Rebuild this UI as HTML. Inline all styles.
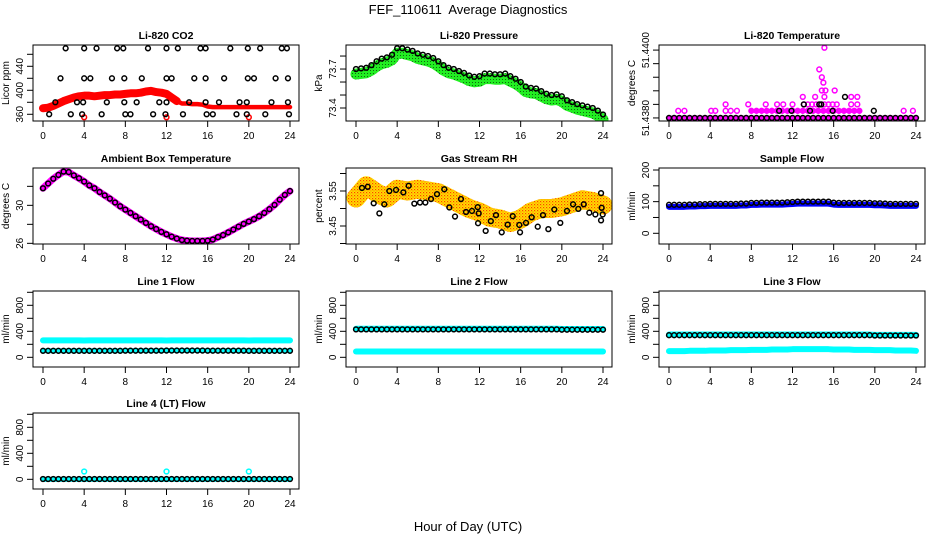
<!DOCTYPE html>
<html><head><meta charset="utf-8"><style>
body{margin:0;background:#fff;}
svg{display:block;font-family:"Liberation Sans",Arial,sans-serif;}
</style></head><body>
<svg id="chart" width="936" height="540" viewBox="0 0 936 540" xmlns="http://www.w3.org/2000/svg">
<defs>
<pattern id="ry" width="3" height="3" patternUnits="userSpaceOnUse"><rect width="3" height="3" fill="#ffe000"/><rect x="0" y="0" width="1.2" height="1.2" fill="#ff4000"/><rect x="1.5" y="1.5" width="1" height="1" fill="#ff6000"/></pattern>
<pattern id="gk" width="3" height="3" patternUnits="userSpaceOnUse"><rect width="3" height="3" fill="#22ee22"/><rect x="1" y="1" width="1" height="1" fill="#116611"/></pattern>
</defs>
<text x="468" y="14" text-anchor="middle" font-size="13" xml:space="preserve">FEF_110611  Average Diagnostics</text>
<text x="468" y="531" text-anchor="middle" font-size="13">Hour of Day (UTC)</text>
</svg>
<script>
// ---------- data ----------
const HOURS = [0,0.5,1,1.5,2,2.5,3,3.5,4,4.5,5,5.5,6,6.5,7,7.5,8,8.5,9,9.5,10,10.5,11,11.5,12,12.5,13,13.5,14,14.5,15,15.5,16,16.5,17,17.5,18,18.5,19,19.5,20,20.5,21,21.5,22,22.5,23,23.5,24];
const X_TICKS = [0,4,8,12,16,20,24];

const co2Red = [370,371,374,378,382,385,388,390,391,391,390,391,392,392,393,393,394,395,395,396,398,399,397,396,394,388,382,378,378,377,377,376,373,372,372,372,372,372,372,372,372,372,372,372,372,372,372,372,372];
const co2BlackH = [2.2,4.0,5.2,7.2,7.8,10.2,12.0,13.1,15.3,15.8,18.2,19.9,21.1,23.2,23.7, 1.7,4.0,4.6,6.7,7.9,9.6,12.0,12.5,14.7,15.8,17.6,19.9,20.5,22.6,23.8, 1.2,3.3,3.9,6.2,7.9,9.1,11.3,12.0,14.2,15.8,17.1,19.1,19.8,22.2,23.8, 0.6,2.7,3.8,5.7,8.0,8.5,10.7,11.9,13.6,15.9,16.5,18.8,19.8,21.6,23.9];
const co2BlackV = [470,470,470,470,470,470,470,470,470,470,470,470,470,470,470, 420,420,420,420,420,420,420,420,420,420,420,420,420,420,420, 380,380,380,380,380,380,380,380,380,380,380,380,380,380,380, 360,360,360,360,360,360,360,360,360,360,360,360,360,360,360];
const co2OutH = [4,12,20];
const co2OutV = [355,355,355];

const pressure = [73.70,73.705,73.71,73.73,73.76,73.78,73.79,73.81,73.86,73.86,73.85,73.84,73.82,73.81,73.80,73.785,73.76,73.73,73.71,73.70,73.685,73.67,73.65,73.64,73.645,73.665,73.665,73.66,73.66,73.665,73.645,73.625,73.60,73.565,73.555,73.55,73.53,73.51,73.50,73.505,73.49,73.46,73.445,73.43,73.42,73.41,73.40,73.38,73.35];

const tempBase = [51.4380,51.4380,51.4380,51.4380,51.4380,51.4380,51.4380,51.4380,51.4380,51.4380,51.4380,51.4380,51.4380,51.4380,51.4380,51.4380,51.4380,51.4380,51.4380,51.4380,51.4380,51.4380,51.4380,51.4380,51.4380,51.4380,51.4380,51.4380,51.4380,51.4380,51.4380,51.4380,51.4380,51.4380,51.4380,51.4380,51.4380,51.4380,51.4380,51.4380,51.4380,51.4380,51.4380,51.4380,51.4380,51.4380,51.4380,51.4380,51.4380];
const tempMagH = [0.9,1.5,4.1,4.5,5.5,6.0,6.6,8.0,8.5,9.0,9.5,10.0,10.5,11.0,11.5,12.0,12.5,13.0,13.5,14.0,14.5,15.0,15.5,16.0,16.5,17.0,17.5,18.0,18.5,22.8,23.7, 5.5,7.7,9.4,10.5,11.1,12.0,13.1,13.5,13.9,14.3,14.7,15.1,15.5,15.9,16.3,17.7,18.3, 13.0,14.2,15.1,17.7,18.3, 14.85,15.2,16.1, 15.0, 14.85, 14.6, 15.1];
const tempMagV = [51.43821,51.43821,51.43821,51.43821,51.43821,51.43821,51.43821,51.43821,51.43821,51.43821,51.43821,51.43821,51.43821,51.43821,51.43821,51.43821,51.43821,51.43821,51.43821,51.43821,51.43821,51.43821,51.43821,51.43821,51.43821,51.43821,51.43821,51.43821,51.43821,51.43821,51.43821, 51.4384,51.4384,51.4384,51.4384,51.4384,51.4384,51.4384,51.4384,51.4384,51.4384,51.4384,51.4384,51.4384,51.4384,51.4384,51.4384,51.4384, 51.43862,51.43862,51.43862,51.43862,51.43862, 51.43881,51.43881,51.43881, 51.43904, 51.4392, 51.43943, 51.44007];
const tempBlkH = [10.7,11.9,13.7,15.9,19.9,13.1,14.6,14.8,17.1];
const tempBlkV = [51.43821,51.43821,51.43821,51.43821,51.43821,51.4384,51.4384,51.4384,51.43862];

const ambient = [31.8,32.3,32.8,33.2,33.55,33.5,33.15,32.85,32.5,32.1,31.8,31.4,31.05,30.7,30.3,29.9,29.55,29.2,28.85,28.5,28.15,27.8,27.5,27.2,26.95,26.7,26.5,26.35,26.28,26.25,26.25,26.25,26.28,26.4,26.65,26.87,27.15,27.45,27.75,28.05,28.3,28.55,28.85,29.2,29.6,30.05,30.6,31.1,31.5];

const rhHours = [0,1,2,3,4,5,6,7,8,9,10,11,12,13,14,15,16,17,18,19,20,21,22,23,24];
const rhCloud = [3.53,3.565,3.545,3.53,3.555,3.55,3.555,3.55,3.545,3.53,3.515,3.50,3.49,3.475,3.47,3.46,3.47,3.49,3.50,3.50,3.505,3.515,3.525,3.52,3.51];
const rhBlkH = [0.58,1.14,1.72,2.27,2.75,3.24,3.89,4.60,5.12,5.67,6.22,6.74,7.29,7.87,8.58,9.07,9.62,10.2,10.69,11.27,11.83,11.92,11.86,12.6,13.1,13.6,14.16,14.74,15.23,15.87,15.94,16.52,17.07,17.66,18.17,18.69,19.27,19.85,20.5,21.09,21.6,22.13,22.67,23.26,23.81,23.87,23.97,23.81];
const rhBlkV = [3.559,3.562,3.515,3.486,3.512,3.550,3.553,3.546,3.565,3.514,3.517,3.517,3.527,3.541,3.555,3.503,3.477,3.527,3.490,3.493,3.504,3.486,3.458,3.436,3.464,3.481,3.432,3.454,3.478,3.453,3.432,3.459,3.475,3.448,3.481,3.441,3.497,3.459,3.493,3.512,3.499,3.512,3.488,3.483,3.544,3.502,3.483,3.466];

const sampleFlow = [90,90,90,90,91,91,92,92,93,93,93,93,93,93,94,94,96,96,97,97,97,97,97,98,99,100,100,100,100,100,100,100,97,96,96,96,96,96,96,96,95,95,94,93,93,93,93,93,93];

const line1Cyan = [260,260,260,260,260,260,260,260,258,260,260,260,260,260,260,260,260,260,260,260,260,260,260,260,258,260,260,260,260,260,260,260,260,260,260,260,260,260,260,260,258,260,260,260,260,260,260,260,260];
const line1Black = [100,100,100,100,100,100,100,100,100,100,100,100,100,100,100,100,102,102,102,102,102,102,102,102,104,104,104,104,104,104,104,104,102,102,102,102,102,102,102,102,100,100,100,100,100,100,100,100,100];
const line2Cyan = [440,440,440,440,440,440,440,440,440,440,440,440,440,440,440,440,440,440,440,440,440,440,440,440,440,440,440,440,440,440,440,440,440,440,440,440,440,440,440,440,435,435,435,435,435,435,435,435,435];
const line2Low = [90,90,90,90,90,90,90,90,90,90,90,90,90,90,90,90,90,90,90,90,90,90,90,90,90,90,90,90,90,90,90,90,90,90,90,90,90,90,90,90,90,90,90,90,90,90,90,90,90];
const line2Black = [430,430,430,430,430,430,430,430,430,430,430,430,430,430,430,430,430,430,430,430,430,430,430,430,430,430,430,430,430,430,430,430,430,430,430,430,430,430,430,430,425,425,425,425,425,425,425,425,425];
const line3Cyan = [350,350,350,350,350,350,350,350,350,350,350,350,350,350,350,350,350,350,350,350,350,350,350,350,350,350,350,350,350,350,350,350,350,350,350,350,350,350,350,350,345,345,345,345,345,345,345,345,345];
const line3Low = [95,95,95,95,100,100,100,100,105,105,105,105,110,110,110,110,115,115,115,115,120,120,120,120,125,125,125,125,125,125,125,125,120,120,120,120,115,115,115,115,110,110,110,110,105,105,105,105,100];
const line3Black = [340,340,340,340,340,340,340,340,340,340,340,340,340,340,340,340,340,340,340,340,340,340,340,340,340,340,340,340,340,340,340,340,340,340,340,340,340,340,340,340,335,335,335,335,335,335,335,335,335];
const line4Cyan = [0,0,0,0,0,0,0,0,0,0,0,0,0,0,0,0,0,0,0,0,0,0,0,0,0,0,0,0,0,0,0,0,0,0,0,0,0,0,0,0,0,0,0,0,0,0,0,0,0];
const line4Black = [5,5,5,5,5,5,5,5,5,5,5,5,5,5,5,5,5,5,5,5,5,5,5,5,5,5,5,5,5,5,5,5,5,5,5,5,5,5,5,5,5,5,5,5,5,5,5,5,5];
const line4OutH = [4,12,20];
const line4OutV = [120,120,120];

// ---------- drawing ----------
const svg = document.getElementById('chart');
const NS = 'http://www.w3.org/2000/svg';
const COLS = [33,346,659], ROWS = [45,168,291,413], PW = 266, PH = 76;
function mk(tag, attrs, parent){ const e=document.createElementNS(NS,tag); for(const k in attrs) e.setAttribute(k,attrs[k]); (parent||svg).appendChild(e); return e; }

function panel(col,row,title,ylab,ymin,ymax,yticks,ylabels,name){
  const L=COLS[col], T=ROWS[row];
  const g=mk('g',{});
  
  
  const xs=h=>L+10+h*(PW-19)/24;
  const ys=v=>T+PH-(v-ymin)/(ymax-ymin)*PH;
  const t=mk('text',{x:L+PW/2,y:T-6,'text-anchor':'middle','font-size':'10.5','font-weight':'bold'},g);
  t.textContent=title;
  
  
  const marks=mk('g',{},g);
  
  
  const axes=mk('g',{stroke:'#000','stroke-width':'1',fill:'none'},g);
  
  
  mk('rect',{x:L,y:T,width:PW,height:PH},axes);
  mk('line',{x1:xs(0),x2:xs(24),y1:T+PH,y2:T+PH},axes);
  X_TICKS.forEach(h=>{
    mk('line',{x1:xs(h),x2:xs(h),y1:T+PH,y2:T+PH+6},axes);
    const tl=mk('text',{x:xs(h),y:T+PH+18,'text-anchor':'middle','font-size':'10'},g);
    tl.textContent=h;
    
    
  });
  yticks.forEach(v=>{ mk('line',{x1:L-6,x2:L,y1:ys(v),y2:ys(v)},axes); });
  ylabels.forEach(v=>{
    const yl=mk('text',{x:L-10,y:ys(v[0]),'text-anchor':'middle','font-size':'10',transform:`rotate(-90 ${L-10} ${ys(v[0])})`},g);
    yl.textContent=v[1];
    
    
  });
  const yt=mk('text',{x:L-24,y:T+PH/2,'text-anchor':'middle','font-size':'10',transform:`rotate(-90 ${L-24} ${T+PH/2})`},g);
  yt.textContent=ylab;
  
  
  const clip='c'+name; const cp=mk('clipPath',{id:clip},g); mk('rect',{x:L,y:T,width:PW,height:PH},cp);
  marks.setAttribute('clip-path','url(#'+clip+')');
  return {xs,ys,marks};
}
function band(p,hs,vs,color,w,dy,name){
  const pts=hs.map((h,i)=>p.xs(h)+','+(p.ys(vs[i])+(dy||0))).join(' ');
  const b=mk('polyline',{points:pts,fill:'none',stroke:color,'stroke-width':w,'stroke-linejoin':'round','stroke-linecap':'round'},p.marks);
  
  
}
function pts(p,hs,vs,color,name,r){
  hs.forEach((h,i)=>{
    const c=mk('circle',{cx:p.xs(h),cy:p.ys(vs[i]),r:r||2.4,fill:'none',stroke:color,'stroke-width':'1.5'},p.marks);
    
    
  });
}

// CO2
let p=panel(0,0,'Li-820 CO2','Licor ppm',348.8,475.5,[360,380,400,420,440,460],[[360,'360'],[400,'400'],[440,'440']],'co2');
band(p,HOURS.slice(0,27),co2Red.slice(0,27),'#ff0000',8,0,'co2-band-day');
band(p,HOURS.slice(26),co2Red.slice(26),'#ff0000',4.5,0,'co2-band-night');
pts(p,co2OutH,co2OutV,'#ff0000','co2-outlier');
pts(p,co2BlackH,co2BlackV,'#000','co2-point');

// Pressure
p=panel(1,0,'Li-820 Pressure','kPa',73.30,73.885,[73.4,73.5,73.6,73.7,73.8],[[73.4,'73.4'],[73.7,'73.7']],'pressure');
band(p,HOURS,pressure,'url(#gk)',11,5,'pressure-band');
pts(p,HOURS,pressure,'#000','pressure-point');

// Temperature
p=panel(2,0,'Li-820 Temperature','degrees C',51.43791,51.44015,[51.438,51.4384,51.4388,51.4392,51.4396,51.44],[[51.438,'51.4380'],[51.44,'51.4400']],'temperature');
band(p,HOURS,tempBase,'#ff00ff',5,0,'temperature-band');
band(p,[8,18.5],[51.43821,51.43821],'#ff00ff',4,0,'temperature-band-2');
pts(p,tempMagH,tempMagV,'#ff00ff','temperature-magenta-point');
pts(p,HOURS,tempBase,'#000','temperature-point');
pts(p,tempBlkH,tempBlkV,'#000','temperature-point');

// Ambient
p=panel(0,1,'Ambient Box Temperature','degrees C',25.93,33.93,[26,28,30,32],[[26,'26'],[30,'30']],'ambient');
band(p,HOURS,ambient,'#ff00ff',7,0,'ambient-band');
pts(p,HOURS,ambient,'#000','ambient-point');

// Gas RH
p=panel(1,1,'Gas Stream RH','percent',3.3986,3.6157,[3.40,3.45,3.50,3.55,3.60],[[3.45,'3.45'],[3.55,'3.55']],'gas-rh');
band(p,rhHours,rhCloud,'url(#ry)',19,0,'gas-rh-cloud');
pts(p,rhBlkH,rhBlkV,'#000','gas-rh-point');

// Sample flow
p=panel(2,1,'Sample Flow','ml/min',-33.8,206.3,[0,50,100,150,200],[[0,'0'],[100,'100'],[200,'200']],'sample-flow');
band(p,HOURS,sampleFlow,'#0000ff',6,2,'sample-flow-band');
pts(p,HOURS,sampleFlow,'#000','sample-flow-point');

const FT=[0,200,400,600,800,1000], FL=[[0,'0'],[400,'400'],[800,'800']];
// Line 1
p=panel(0,2,'Line 1 Flow','ml/min',-149,1020,FT,FL,'line1');
band(p,HOURS,line1Cyan,'#00ffff',6,0,'line1-cyan-band');
band(p,HOURS,line1Black,'#00ffff',5,0,'line1-low-band');
pts(p,HOURS,line1Black,'#000','line1-point');
// Line 2
p=panel(1,2,'Line 2 Flow','ml/min',-149,1020,FT,FL,'line2');
band(p,HOURS,line2Cyan,'#00ffff',6,0,'line2-cyan-band');
band(p,HOURS,line2Low,'#00ffff',6,0,'line2-low-band');
pts(p,HOURS,line2Black,'#000','line2-point');
// Line 3
p=panel(2,2,'Line 3 Flow','ml/min',-149,1020,FT,FL,'line3');
band(p,HOURS,line3Cyan,'#00ffff',6,0,'line3-cyan-band');
band(p,HOURS,line3Low,'#00ffff',6,0,'line3-low-band');
pts(p,HOURS,line3Black,'#000','line3-point');
// Line 4
p=panel(0,3,'Line 4 (LT) Flow','ml/min',-149,1020,FT,FL,'line4');
band(p,HOURS,line4Cyan,'#00ffff',5,0,'line4-cyan-band');
pts(p,line4OutH,line4OutV,'#00ffff','line4-outlier');
pts(p,HOURS,line4Black,'#000','line4-point');
</script>
</body></html>
